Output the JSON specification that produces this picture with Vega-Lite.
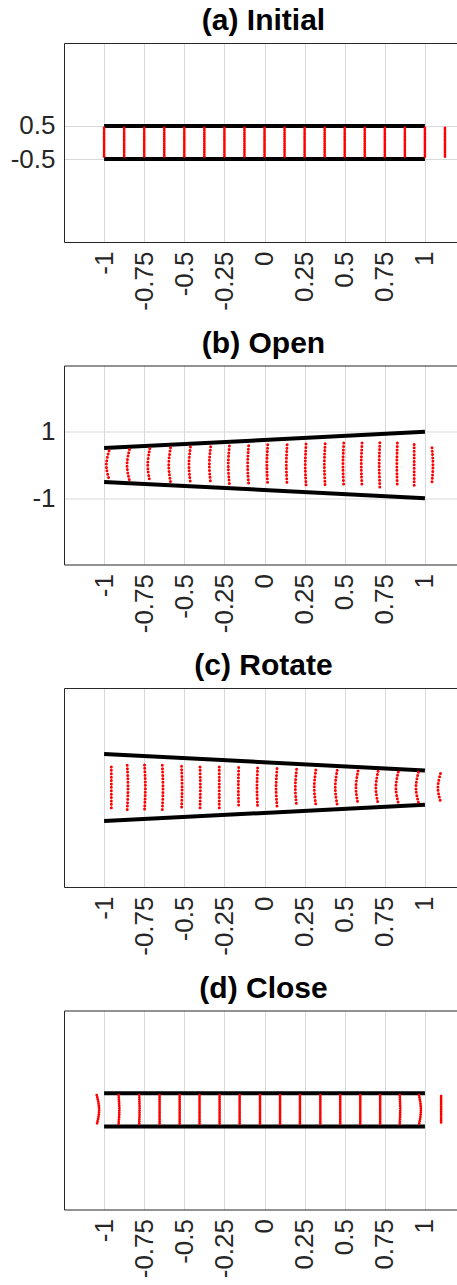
{
"$schema": "https://vega.github.io/schema/vega-lite/v6.json",
"padding": {"left": 10, "top": 6, "right": 0, "bottom": 0},
"spacing": 17.5,
"config": {
  "view": {"stroke": null},
  "font": "Liberation Sans",
  "title": {"fontSize": 30, "fontWeight": "bold", "font": "Liberation Sans", "color": "#000000", "baseline": "alphabetic", "offset": 7, "dx": 3},
  "axis": {"labelFont": "Liberation Sans", "labelFontSize": 26, "labelColor": "#262626", "domainColor": "#262626", "domainWidth": 1, "gridColor": "#d9d9d9", "gridWidth": 1, "ticks": false, "labelPadding": 9, "title": null, "labelOverlap": false, "labelFlush": false}
},
"datasets": {
  "walls": [
    {"p":"a","s":"t","x":-1,"y":0.5},{"p":"a","s":"t","x":1,"y":0.5},{"p":"a","s":"b","x":-1,"y":-0.5},{"p":"a","s":"b","x":1,"y":-0.5},
    {"p":"b","s":"t","x":-1,"y":0.51},{"p":"b","s":"t","x":1,"y":1.0},{"p":"b","s":"b","x":-1,"y":-0.51},{"p":"b","s":"b","x":1,"y":-1.0},
    {"p":"c","s":"t","x":-1,"y":1.01},{"p":"c","s":"t","x":1,"y":0.51},{"p":"c","s":"b","x":-1,"y":-1.01},{"p":"c","s":"b","x":1,"y":-0.52},
    {"p":"d","s":"t","x":-1,"y":0.505},{"p":"d","s":"t","x":1,"y":0.505},{"p":"d","s":"b","x":-1,"y":-0.5},{"p":"d","s":"b","x":1,"y":-0.5}
  ],
  "cols": [
    {"p":"a","c":1,"k":0,"x":-1,"y":0.44},{"p":"a","c":1,"k":2,"x":-1,"y":-0.44},
    {"p":"a","c":2,"k":0,"x":-0.875,"y":0.44},{"p":"a","c":2,"k":2,"x":-0.875,"y":-0.44},
    {"p":"a","c":3,"k":0,"x":-0.75,"y":0.44},{"p":"a","c":3,"k":2,"x":-0.75,"y":-0.44},
    {"p":"a","c":4,"k":0,"x":-0.625,"y":0.44},{"p":"a","c":4,"k":2,"x":-0.625,"y":-0.44},
    {"p":"a","c":5,"k":0,"x":-0.5,"y":0.44},{"p":"a","c":5,"k":2,"x":-0.5,"y":-0.44},
    {"p":"a","c":6,"k":0,"x":-0.375,"y":0.44},{"p":"a","c":6,"k":2,"x":-0.375,"y":-0.44},
    {"p":"a","c":7,"k":0,"x":-0.25,"y":0.44},{"p":"a","c":7,"k":2,"x":-0.25,"y":-0.44},
    {"p":"a","c":8,"k":0,"x":-0.125,"y":0.44},{"p":"a","c":8,"k":2,"x":-0.125,"y":-0.44},
    {"p":"a","c":9,"k":0,"x":0,"y":0.44},{"p":"a","c":9,"k":2,"x":0,"y":-0.44},
    {"p":"a","c":10,"k":0,"x":0.125,"y":0.44},{"p":"a","c":10,"k":2,"x":0.125,"y":-0.44},
    {"p":"a","c":11,"k":0,"x":0.25,"y":0.44},{"p":"a","c":11,"k":2,"x":0.25,"y":-0.44},
    {"p":"a","c":12,"k":0,"x":0.375,"y":0.44},{"p":"a","c":12,"k":2,"x":0.375,"y":-0.44},
    {"p":"a","c":13,"k":0,"x":0.5,"y":0.44},{"p":"a","c":13,"k":2,"x":0.5,"y":-0.44},
    {"p":"a","c":14,"k":0,"x":0.625,"y":0.44},{"p":"a","c":14,"k":2,"x":0.625,"y":-0.44},
    {"p":"a","c":15,"k":0,"x":0.75,"y":0.44},{"p":"a","c":15,"k":2,"x":0.75,"y":-0.44},
    {"p":"a","c":16,"k":0,"x":0.875,"y":0.44},{"p":"a","c":16,"k":2,"x":0.875,"y":-0.44},
    {"p":"a","c":17,"k":0,"x":1,"y":0.44},{"p":"a","c":17,"k":2,"x":1,"y":-0.44},
    {"p":"a","c":18,"k":0,"x":1.125,"y":0.44},{"p":"a","c":18,"k":2,"x":1.125,"y":-0.44},

    {"p":"b","c":1,"k":0,"x":-0.969,"y":0.43},{"p":"b","c":1,"k":1,"x":-0.986,"y":0},{"p":"b","c":1,"k":2,"x":-0.969,"y":-0.43},
    {"p":"b","c":2,"k":0,"x":-0.842,"y":0.47},{"p":"b","c":2,"k":1,"x":-0.857,"y":0},{"p":"b","c":2,"k":2,"x":-0.842,"y":-0.47},
    {"p":"b","c":3,"k":0,"x":-0.715,"y":0.5},{"p":"b","c":3,"k":1,"x":-0.728,"y":0},{"p":"b","c":3,"k":2,"x":-0.715,"y":-0.5},
    {"p":"b","c":4,"k":0,"x":-0.586,"y":0.52},{"p":"b","c":4,"k":1,"x":-0.597,"y":0},{"p":"b","c":4,"k":2,"x":-0.586,"y":-0.52},
    {"p":"b","c":5,"k":0,"x":-0.462,"y":0.54},{"p":"b","c":5,"k":1,"x":-0.471,"y":0},{"p":"b","c":5,"k":2,"x":-0.462,"y":-0.54},
    {"p":"b","c":6,"k":0,"x":-0.336,"y":0.55},{"p":"b","c":6,"k":1,"x":-0.344,"y":0},{"p":"b","c":6,"k":2,"x":-0.336,"y":-0.55},
    {"p":"b","c":7,"k":0,"x":-0.219,"y":0.57},{"p":"b","c":7,"k":1,"x":-0.226,"y":0},{"p":"b","c":7,"k":2,"x":-0.219,"y":-0.57},
    {"p":"b","c":8,"k":0,"x":-0.099,"y":0.58},{"p":"b","c":8,"k":1,"x":-0.105,"y":0},{"p":"b","c":8,"k":2,"x":-0.099,"y":-0.58},
    {"p":"b","c":9,"k":0,"x":0.02,"y":0.61},{"p":"b","c":9,"k":1,"x":0.015,"y":0},{"p":"b","c":9,"k":2,"x":0.02,"y":-0.61},
    {"p":"b","c":10,"k":0,"x":0.141,"y":0.61},{"p":"b","c":10,"k":1,"x":0.136,"y":0},{"p":"b","c":10,"k":2,"x":0.141,"y":-0.61},
    {"p":"b","c":11,"k":0,"x":0.259,"y":0.63},{"p":"b","c":11,"k":1,"x":0.254,"y":0},{"p":"b","c":11,"k":2,"x":0.259,"y":-0.63},
    {"p":"b","c":12,"k":0,"x":0.378,"y":0.64},{"p":"b","c":12,"k":1,"x":0.373,"y":0},{"p":"b","c":12,"k":2,"x":0.378,"y":-0.64},
    {"p":"b","c":13,"k":0,"x":0.494,"y":0.66},{"p":"b","c":13,"k":1,"x":0.489,"y":0},{"p":"b","c":13,"k":2,"x":0.494,"y":-0.66},
    {"p":"b","c":14,"k":0,"x":0.608,"y":0.66},{"p":"b","c":14,"k":1,"x":0.603,"y":0},{"p":"b","c":14,"k":2,"x":0.608,"y":-0.66},
    {"p":"b","c":15,"k":0,"x":0.719,"y":0.67},{"p":"b","c":15,"k":1,"x":0.715,"y":0},{"p":"b","c":15,"k":2,"x":0.719,"y":-0.67},
    {"p":"b","c":16,"k":0,"x":0.828,"y":0.66},{"p":"b","c":16,"k":1,"x":0.825,"y":0},{"p":"b","c":16,"k":2,"x":0.828,"y":-0.66},
    {"p":"b","c":17,"k":0,"x":0.933,"y":0.62},{"p":"b","c":17,"k":1,"x":0.933,"y":0},{"p":"b","c":17,"k":2,"x":0.933,"y":-0.62},
    {"p":"b","c":18,"k":0,"x":1.044,"y":0.52},{"p":"b","c":18,"k":1,"x":1.05,"y":0},{"p":"b","c":18,"k":2,"x":1.044,"y":-0.52},

    {"p":"c","c":1,"k":0,"x":-0.955,"y":0.62},{"p":"c","c":1,"k":1,"x":-0.955,"y":0},{"p":"c","c":1,"k":2,"x":-0.955,"y":-0.62},
    {"p":"c","c":2,"k":0,"x":-0.856,"y":0.67},{"p":"c","c":2,"k":1,"x":-0.851,"y":0},{"p":"c","c":2,"k":2,"x":-0.856,"y":-0.67},
    {"p":"c","c":3,"k":0,"x":-0.748,"y":0.68},{"p":"c","c":3,"k":1,"x":-0.743,"y":0},{"p":"c","c":3,"k":2,"x":-0.748,"y":-0.68},
    {"p":"c","c":4,"k":0,"x":-0.637,"y":0.67},{"p":"c","c":4,"k":1,"x":-0.633,"y":0},{"p":"c","c":4,"k":2,"x":-0.637,"y":-0.67},
    {"p":"c","c":5,"k":0,"x":-0.517,"y":0.64},{"p":"c","c":5,"k":1,"x":-0.514,"y":0},{"p":"c","c":5,"k":2,"x":-0.517,"y":-0.64},
    {"p":"c","c":6,"k":0,"x":-0.402,"y":0.62},{"p":"c","c":6,"k":1,"x":-0.4,"y":0},{"p":"c","c":6,"k":2,"x":-0.402,"y":-0.62},
    {"p":"c","c":7,"k":0,"x":-0.282,"y":0.62},{"p":"c","c":7,"k":1,"x":-0.282,"y":0},{"p":"c","c":7,"k":2,"x":-0.282,"y":-0.62},
    {"p":"c","c":8,"k":0,"x":-0.161,"y":0.6},{"p":"c","c":8,"k":1,"x":-0.163,"y":0},{"p":"c","c":8,"k":2,"x":-0.161,"y":-0.6},
    {"p":"c","c":9,"k":0,"x":-0.043,"y":0.59},{"p":"c","c":9,"k":1,"x":-0.047,"y":0},{"p":"c","c":9,"k":2,"x":-0.043,"y":-0.59},
    {"p":"c","c":10,"k":0,"x":0.078,"y":0.57},{"p":"c","c":10,"k":1,"x":0.072,"y":0},{"p":"c","c":10,"k":2,"x":0.078,"y":-0.57},
    {"p":"c","c":11,"k":0,"x":0.2,"y":0.55},{"p":"c","c":11,"k":1,"x":0.192,"y":0},{"p":"c","c":11,"k":2,"x":0.2,"y":-0.55},
    {"p":"c","c":12,"k":0,"x":0.32,"y":0.53},{"p":"c","c":12,"k":1,"x":0.31,"y":0},{"p":"c","c":12,"k":2,"x":0.32,"y":-0.53},
    {"p":"c","c":13,"k":0,"x":0.453,"y":0.52},{"p":"c","c":13,"k":1,"x":0.441,"y":0},{"p":"c","c":13,"k":2,"x":0.453,"y":-0.52},
    {"p":"c","c":14,"k":0,"x":0.583,"y":0.5},{"p":"c","c":14,"k":1,"x":0.57,"y":0},{"p":"c","c":14,"k":2,"x":0.583,"y":-0.5},
    {"p":"c","c":15,"k":0,"x":0.708,"y":0.49},{"p":"c","c":15,"k":1,"x":0.694,"y":0},{"p":"c","c":15,"k":2,"x":0.708,"y":-0.49},
    {"p":"c","c":16,"k":0,"x":0.834,"y":0.47},{"p":"c","c":16,"k":1,"x":0.819,"y":0},{"p":"c","c":16,"k":2,"x":0.834,"y":-0.47},
    {"p":"c","c":17,"k":0,"x":0.96,"y":0.46},{"p":"c","c":17,"k":1,"x":0.944,"y":0},{"p":"c","c":17,"k":2,"x":0.96,"y":-0.46},
    {"p":"c","c":18,"k":0,"x":1.097,"y":0.42},{"p":"c","c":18,"k":1,"x":1.081,"y":0},{"p":"c","c":18,"k":2,"x":1.097,"y":-0.42},

    {"p":"d","c":1,"k":0,"x":-1.046,"y":0.45},{"p":"d","c":1,"k":1,"x":-1.031,"y":0},{"p":"d","c":1,"k":2,"x":-1.046,"y":-0.45},
    {"p":"d","c":2,"k":0,"x":-0.91,"y":0.45},{"p":"d","c":2,"k":1,"x":-0.905,"y":0},{"p":"d","c":2,"k":2,"x":-0.91,"y":-0.45},
    {"p":"d","c":3,"k":0,"x":-0.781,"y":0.45},{"p":"d","c":3,"k":1,"x":-0.779,"y":0},{"p":"d","c":3,"k":2,"x":-0.781,"y":-0.45},
    {"p":"d","c":4,"k":0,"x":-0.654,"y":0.45},{"p":"d","c":4,"k":2,"x":-0.654,"y":-0.45},
    {"p":"d","c":5,"k":0,"x":-0.529,"y":0.45},{"p":"d","c":5,"k":2,"x":-0.529,"y":-0.45},
    {"p":"d","c":6,"k":0,"x":-0.405,"y":0.45},{"p":"d","c":6,"k":2,"x":-0.405,"y":-0.45},
    {"p":"d","c":7,"k":0,"x":-0.28,"y":0.45},{"p":"d","c":7,"k":2,"x":-0.28,"y":-0.45},
    {"p":"d","c":8,"k":0,"x":-0.155,"y":0.45},{"p":"d","c":8,"k":2,"x":-0.155,"y":-0.45},
    {"p":"d","c":9,"k":0,"x":-0.028,"y":0.45},{"p":"d","c":9,"k":2,"x":-0.028,"y":-0.45},
    {"p":"d","c":10,"k":0,"x":0.097,"y":0.45},{"p":"d","c":10,"k":2,"x":0.097,"y":-0.45},
    {"p":"d","c":11,"k":0,"x":0.221,"y":0.45},{"p":"d","c":11,"k":2,"x":0.221,"y":-0.45},
    {"p":"d","c":12,"k":0,"x":0.348,"y":0.45},{"p":"d","c":12,"k":2,"x":0.348,"y":-0.45},
    {"p":"d","c":13,"k":0,"x":0.472,"y":0.45},{"p":"d","c":13,"k":2,"x":0.472,"y":-0.45},
    {"p":"d","c":14,"k":0,"x":0.597,"y":0.45},{"p":"d","c":14,"k":2,"x":0.597,"y":-0.45},
    {"p":"d","c":15,"k":0,"x":0.721,"y":0.45},{"p":"d","c":15,"k":2,"x":0.721,"y":-0.45},
    {"p":"d","c":16,"k":0,"x":0.843,"y":0.45},{"p":"d","c":16,"k":1,"x":0.846,"y":0},{"p":"d","c":16,"k":2,"x":0.843,"y":-0.45},
    {"p":"d","c":17,"k":0,"x":0.963,"y":0.45},{"p":"d","c":17,"k":1,"x":0.975,"y":0},{"p":"d","c":17,"k":2,"x":0.963,"y":-0.45},
    {"p":"d","c":18,"k":0,"x":1.101,"y":0.42},{"p":"d","c":18,"k":2,"x":1.101,"y":-0.42}
  ]
},
"vconcat": [
  {
    "title": "(a) Initial",
    "width": 393, "height": 199,
    "resolve": {"axis": {"x": "independent"}},
    "layer": [
      {"data": {"name": "walls"}, "transform": [{"filter": "datum.p == 'a'"}],
       "mark": {"type": "line", "color": "#000000", "strokeWidth": 4, "strokeCap": "butt"},
       "encoding": {
         "x": {"field": "x", "type": "quantitative", "scale": {"domain": [-1.25, 1.2], "nice": false, "zero": false},
               "axis": {"orient": "bottom", "values": [-1,-0.75,-0.5,-0.25,0,0.25,0.5,0.75,1], "labelAngle": 270, "grid": true, "labelExpr": "datum.value < 0 ? '-' + format(-datum.value, '~g') : format(datum.value, '~g')"}},
         "y": {"field": "y", "type": "quantitative", "scale": {"domain": [-3, 3], "nice": false, "zero": false},
               "axis": {"values": [-0.5, 0.5], "grid": true, "minExtent": 54, "maxExtent": 54, "labelExpr": "datum.value < 0 ? '-' + format(-datum.value, '~g') : format(datum.value, '~g')"}},
         "detail": {"field": "s"}
       }},
      {"data": {"name": "cols"}, "transform": [{"filter": "datum.p == 'a'"}],
       "mark": {"type": "line", "color": "#ff0000", "strokeWidth": 2.8, "strokeDash": [0, 2.2], "strokeCap": "round", "interpolate": "natural"},
       "encoding": {
         "x": {"field": "x", "type": "quantitative", "scale": {"domain": [-1.25, 1.2], "nice": false, "zero": false},
               "axis": {"orient": "top", "labels": false, "grid": false, "domain": true, "ticks": false}},
         "y": {"field": "y", "type": "quantitative", "scale": {"domain": [-3, 3], "nice": false, "zero": false},
               "axis": {"values": [-0.5, 0.5], "grid": true, "minExtent": 54, "maxExtent": 54, "labelExpr": "datum.value < 0 ? '-' + format(-datum.value, '~g') : format(datum.value, '~g')"}},
         "detail": {"field": "c"},
         "order": {"field": "k"}
       }}
    ]
  },
  {
    "title": "(b) Open",
    "width": 393, "height": 199,
    "resolve": {"axis": {"x": "independent"}},
    "layer": [
      {"data": {"name": "walls"}, "transform": [{"filter": "datum.p == 'b'"}],
       "mark": {"type": "line", "color": "#000000", "strokeWidth": 4, "strokeCap": "butt"},
       "encoding": {
         "x": {"field": "x", "type": "quantitative", "scale": {"domain": [-1.25, 1.2], "nice": false, "zero": false},
               "axis": {"orient": "bottom", "values": [-1,-0.75,-0.5,-0.25,0,0.25,0.5,0.75,1], "labelAngle": 270, "grid": true, "labelExpr": "datum.value < 0 ? '-' + format(-datum.value, '~g') : format(datum.value, '~g')"}},
         "y": {"field": "y", "type": "quantitative", "scale": {"domain": [-3, 3], "nice": false, "zero": false},
               "axis": {"values": [-1, 1], "grid": true, "minExtent": 54, "maxExtent": 54, "labelExpr": "datum.value < 0 ? '-' + format(-datum.value, '~g') : format(datum.value, '~g')"}},
         "detail": {"field": "s"}
       }},
      {"data": {"name": "cols"}, "transform": [{"filter": "datum.p == 'b'"}],
       "mark": {"type": "line", "color": "#ff0000", "strokeWidth": 3, "strokeDash": [0, 3.4], "strokeCap": "round", "interpolate": "natural"},
       "encoding": {
         "x": {"field": "x", "type": "quantitative", "scale": {"domain": [-1.25, 1.2], "nice": false, "zero": false},
               "axis": {"orient": "top", "labels": false, "grid": false, "domain": true, "ticks": false}},
         "y": {"field": "y", "type": "quantitative", "scale": {"domain": [-3, 3], "nice": false, "zero": false},
               "axis": {"values": [-1, 1], "grid": true, "minExtent": 54, "maxExtent": 54, "labelExpr": "datum.value < 0 ? '-' + format(-datum.value, '~g') : format(datum.value, '~g')"}},
         "detail": {"field": "c"},
         "order": {"field": "k"}
       }}
    ]
  },
  {
    "title": "(c) Rotate",
    "width": 393, "height": 199,
    "resolve": {"axis": {"x": "independent"}},
    "layer": [
      {"data": {"name": "walls"}, "transform": [{"filter": "datum.p == 'c'"}],
       "mark": {"type": "line", "color": "#000000", "strokeWidth": 4, "strokeCap": "butt"},
       "encoding": {
         "x": {"field": "x", "type": "quantitative", "scale": {"domain": [-1.25, 1.2], "nice": false, "zero": false},
               "axis": {"orient": "bottom", "values": [-1,-0.75,-0.5,-0.25,0,0.25,0.5,0.75,1], "labelAngle": 270, "grid": true, "labelExpr": "datum.value < 0 ? '-' + format(-datum.value, '~g') : format(datum.value, '~g')"}},
         "y": {"field": "y", "type": "quantitative", "scale": {"domain": [-3, 3], "nice": false, "zero": false},
               "axis": {"values": [], "grid": false, "labels": false, "minExtent": 54, "maxExtent": 54}},
         "detail": {"field": "s"}
       }},
      {"data": {"name": "cols"}, "transform": [{"filter": "datum.p == 'c'"}],
       "mark": {"type": "line", "color": "#ff0000", "strokeWidth": 3, "strokeDash": [0, 3.4], "strokeCap": "round", "interpolate": "natural"},
       "encoding": {
         "x": {"field": "x", "type": "quantitative", "scale": {"domain": [-1.25, 1.2], "nice": false, "zero": false},
               "axis": {"orient": "top", "labels": false, "grid": false, "domain": true, "ticks": false}},
         "y": {"field": "y", "type": "quantitative", "scale": {"domain": [-3, 3], "nice": false, "zero": false},
               "axis": {"values": [], "grid": false, "labels": false, "minExtent": 54, "maxExtent": 54}},
         "detail": {"field": "c"},
         "order": {"field": "k"}
       }}
    ]
  },
  {
    "title": "(d) Close",
    "width": 393, "height": 199,
    "resolve": {"axis": {"x": "independent"}},
    "layer": [
      {"data": {"name": "walls"}, "transform": [{"filter": "datum.p == 'd'"}],
       "mark": {"type": "line", "color": "#000000", "strokeWidth": 4, "strokeCap": "butt"},
       "encoding": {
         "x": {"field": "x", "type": "quantitative", "scale": {"domain": [-1.25, 1.2], "nice": false, "zero": false},
               "axis": {"orient": "bottom", "values": [-1,-0.75,-0.5,-0.25,0,0.25,0.5,0.75,1], "labelAngle": 270, "grid": true, "labelExpr": "datum.value < 0 ? '-' + format(-datum.value, '~g') : format(datum.value, '~g')"}},
         "y": {"field": "y", "type": "quantitative", "scale": {"domain": [-3, 3], "nice": false, "zero": false},
               "axis": {"values": [], "grid": false, "labels": false, "minExtent": 54, "maxExtent": 54}},
         "detail": {"field": "s"}
       }},
      {"data": {"name": "cols"}, "transform": [{"filter": "datum.p == 'd'"}],
       "mark": {"type": "line", "color": "#ff0000", "strokeWidth": 2.8, "strokeDash": [0, 2.2], "strokeCap": "round", "interpolate": "natural"},
       "encoding": {
         "x": {"field": "x", "type": "quantitative", "scale": {"domain": [-1.25, 1.2], "nice": false, "zero": false},
               "axis": {"orient": "top", "labels": false, "grid": false, "domain": true, "ticks": false}},
         "y": {"field": "y", "type": "quantitative", "scale": {"domain": [-3, 3], "nice": false, "zero": false},
               "axis": {"values": [], "grid": false, "labels": false, "minExtent": 54, "maxExtent": 54}},
         "detail": {"field": "c"},
         "order": {"field": "k"}
       }}
    ]
  }
]
}
